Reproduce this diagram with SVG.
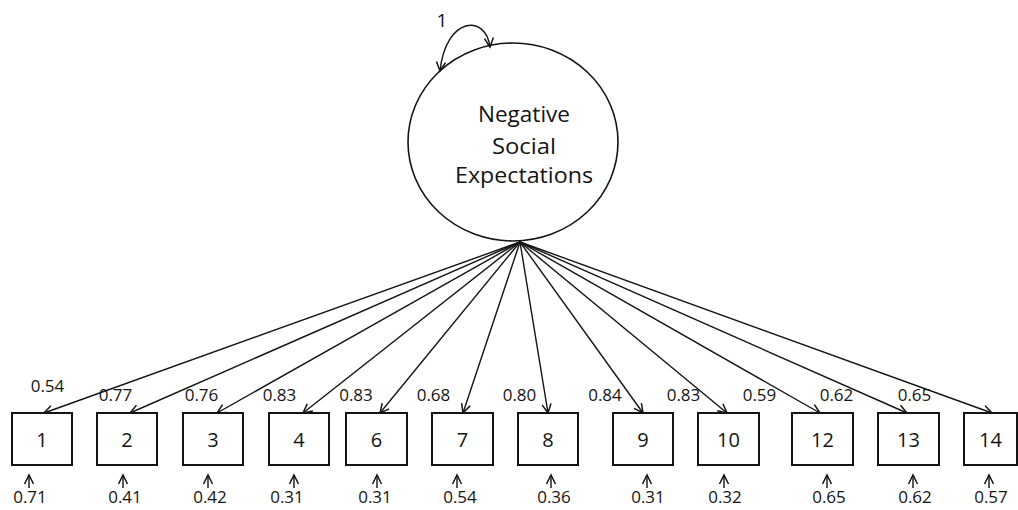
<svg xmlns="http://www.w3.org/2000/svg" width="1018" height="510" viewBox="0 0 1018 510">
<style>
text{font-family:"Open Sans","Noto Sans","Liberation Sans",sans-serif;fill:#141414}
.box{fill:#fff;stroke:#141414;stroke-width:2}
.lbl{font-size:17px;text-anchor:middle}
.num{font-size:20px;text-anchor:middle}
.big{font-size:22px;text-anchor:middle}
.ln{fill:none;stroke:#141414;stroke-width:1.4}
</style>
<defs>
<marker id="ah" markerWidth="12" markerHeight="12" refX="10" refY="5" orient="auto" markerUnits="userSpaceOnUse" viewBox="0 0 12 10">
<path d="M1,0.5 L10,5 L1,9.5" fill="none" stroke="#141414" stroke-width="1.5"/>
</marker>
<marker id="ahr" markerWidth="12" markerHeight="12" refX="10" refY="5" orient="auto-start-reverse" markerUnits="userSpaceOnUse" viewBox="0 0 12 10">
<path d="M1,0.5 L10,5 L1,9.5" fill="none" stroke="#141414" stroke-width="1.5"/>
</marker>
</defs>

<g id="latent">
<ellipse cx="513" cy="142" rx="105" ry="99" fill="#fff" stroke="#141414" stroke-width="1.6"/>
<text class="big" x="524" y="122" textLength="92" lengthAdjust="spacingAndGlyphs">Negative</text>
<text class="big" x="524" y="154" textLength="64" lengthAdjust="spacingAndGlyphs">Social</text>
<text class="big" x="524" y="183" textLength="138" lengthAdjust="spacingAndGlyphs">Expectations</text>
</g>

<g id="variance">
<path class="ln" d="M490,47 C486,14 446,16 440,71" marker-start="url(#ahr)" marker-end="url(#ah)"/>
<text x="442" y="27" style="font-size:19px;text-anchor:middle">1</text>
</g>

<g id="connectors">
<line class="ln" x1="520" y1="242" x2="44" y2="413" marker-end="url(#ah)"/>
<line class="ln" x1="520" y1="242" x2="130" y2="413" marker-end="url(#ah)"/>
<line class="ln" x1="520" y1="242" x2="217" y2="413" marker-end="url(#ah)"/>
<line class="ln" x1="520" y1="242" x2="303" y2="413" marker-end="url(#ah)"/>
<line class="ln" x1="520" y1="242" x2="380" y2="413" marker-end="url(#ah)"/>
<line class="ln" x1="520" y1="242" x2="463" y2="413" marker-end="url(#ah)"/>
<line class="ln" x1="520" y1="242" x2="548" y2="413" marker-end="url(#ah)"/>
<line class="ln" x1="520" y1="242" x2="643" y2="413" marker-end="url(#ah)"/>
<line class="ln" x1="520" y1="242" x2="727" y2="413" marker-end="url(#ah)"/>
<line class="ln" x1="520" y1="242" x2="820" y2="413" marker-end="url(#ah)"/>
<line class="ln" x1="520" y1="242" x2="907" y2="413" marker-end="url(#ah)"/>
<line class="ln" x1="520" y1="242" x2="992" y2="413" marker-end="url(#ah)"/>
<line class="ln" x1="29" y1="488" x2="29" y2="475" marker-end="url(#ah)"/>
<line class="ln" x1="123" y1="488" x2="123" y2="475" marker-end="url(#ah)"/>
<line class="ln" x1="208" y1="488" x2="208" y2="475" marker-end="url(#ah)"/>
<line class="ln" x1="294" y1="488" x2="294" y2="475" marker-end="url(#ah)"/>
<line class="ln" x1="377" y1="488" x2="377" y2="475" marker-end="url(#ah)"/>
<line class="ln" x1="457" y1="488" x2="457" y2="475" marker-end="url(#ah)"/>
<line class="ln" x1="551" y1="488" x2="551" y2="475" marker-end="url(#ah)"/>
<line class="ln" x1="647" y1="488" x2="647" y2="475" marker-end="url(#ah)"/>
<line class="ln" x1="724" y1="488" x2="724" y2="475" marker-end="url(#ah)"/>
<line class="ln" x1="827" y1="488" x2="827" y2="475" marker-end="url(#ah)"/>
<line class="ln" x1="913" y1="488" x2="913" y2="475" marker-end="url(#ah)"/>
<line class="ln" x1="989" y1="488" x2="989" y2="475" marker-end="url(#ah)"/>
</g>

<g id="loadings">
<text class="lbl" x="47.5" y="392">0.54</text>
<text class="lbl" x="115.5" y="401">0.77</text>
<text class="lbl" x="201.5" y="401">0.76</text>
<text class="lbl" x="279.5" y="401">0.83</text>
<text class="lbl" x="356" y="401">0.83</text>
<text class="lbl" x="433.5" y="401">0.68</text>
<text class="lbl" x="519.5" y="401">0.80</text>
<text class="lbl" x="605" y="401">0.84</text>
<text class="lbl" x="683.5" y="401">0.83</text>
<text class="lbl" x="759.5" y="401">0.59</text>
<text class="lbl" x="836.5" y="401">0.62</text>
<text class="lbl" x="914.5" y="401">0.65</text>
</g>

<g id="errors">
<text class="lbl" x="30" y="503">0.71</text>
<text class="lbl" x="125" y="503">0.41</text>
<text class="lbl" x="210" y="503">0.42</text>
<text class="lbl" x="287" y="503">0.31</text>
<text class="lbl" x="375" y="503">0.31</text>
<text class="lbl" x="460" y="503">0.54</text>
<text class="lbl" x="554" y="503">0.36</text>
<text class="lbl" x="648" y="503">0.31</text>
<text class="lbl" x="725" y="503">0.32</text>
<text class="lbl" x="829" y="503">0.65</text>
<text class="lbl" x="915" y="503">0.62</text>
<text class="lbl" x="991" y="503">0.57</text>
</g>

<g id="item1"><rect class="box" x="12" y="413" width="60" height="52"/><text class="num" x="42" y="447">1</text></g>
<g id="item2"><rect class="box" x="97" y="413" width="60" height="52"/><text class="num" x="127" y="447">2</text></g>
<g id="item3"><rect class="box" x="183" y="413" width="60" height="52"/><text class="num" x="213" y="447">3</text></g>
<g id="item4"><rect class="box" x="269" y="413" width="60" height="52"/><text class="num" x="299" y="447">4</text></g>
<g id="item6"><rect class="box" x="346" y="413" width="61" height="52"/><text class="num" x="376.5" y="447">6</text></g>
<g id="item7"><rect class="box" x="432" y="413" width="61" height="52"/><text class="num" x="462.5" y="447">7</text></g>
<g id="item8"><rect class="box" x="518" y="413" width="60" height="52"/><text class="num" x="548" y="447">8</text></g>
<g id="item9"><rect class="box" x="613" y="413" width="60" height="52"/><text class="num" x="643" y="447">9</text></g>
<g id="item10"><rect class="box" x="698" y="413" width="61" height="52"/><text class="num" x="728.5" y="447">10</text></g>
<g id="item12"><rect class="box" x="792" y="413" width="61" height="52"/><text class="num" x="822.5" y="447">12</text></g>
<g id="item13"><rect class="box" x="878" y="413" width="61" height="52"/><text class="num" x="908.5" y="447">13</text></g>
<g id="item14"><rect class="box" x="964" y="413" width="53" height="52"/><text class="num" x="990.5" y="447">14</text></g>
</svg>
